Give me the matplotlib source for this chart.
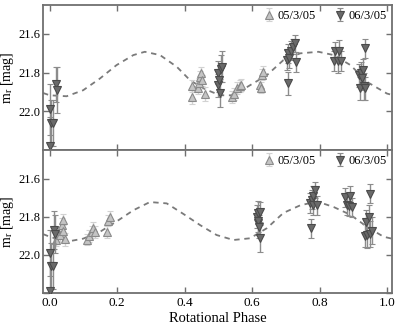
import matplotlib
matplotlib.use("Agg")
import matplotlib.pyplot as plt

plt.rcParams['font.family'] = ['Liberation Serif', 'DejaVu Serif']
plt.rcParams['mathtext.fontset'] = 'stix'

# ---------------- data ----------------
# top panel, 05/3/05 (up triangles)
top_a_phase = [0.421, 0.423, 0.439, 0.443, 0.447, 0.449, 0.453, 0.459,
               0.540, 0.545, 0.555, 0.563, 0.567,
               0.624, 0.626, 0.629, 0.632]
top_a_mag = [21.926, 21.870, 21.880, 21.856, 21.820, 21.800, 21.840, 21.910,
             21.926, 21.910, 21.880, 21.870, 21.865,
             21.865, 21.877, 21.810, 21.796]
top_a_err = [0.035, 0.03, 0.03, 0.03, 0.03, 0.03, 0.03, 0.035,
             0.03, 0.03, 0.03, 0.03, 0.03,
             0.03, 0.03, 0.03, 0.03]

# top panel, 06/3/05 (down triangles)
top_b_phase = [0.000, 0.001, 0.005, 0.009, 0.020, 0.022,
               0.500, 0.500, 0.503, 0.505, 0.508, 0.510,
               0.705, 0.708, 0.708, 0.711, 0.715, 0.721, 0.728, 0.731,
               0.842, 0.845, 0.855, 0.859, 0.865,
               0.916, 0.921, 0.924, 0.926, 0.928, 0.931, 0.934, 0.936]
top_b_mag = [22.180, 21.990, 22.060, 22.060, 21.860, 21.890,
             21.800, 21.865, 21.840, 21.905, 21.780, 21.770,
             21.735, 21.700, 21.856, 21.726, 21.687, 21.666, 21.648, 21.744,
             21.740, 21.690, 21.740, 21.690, 21.740,
             21.813, 21.880, 21.804, 21.830, 21.787, 21.870, 21.674, 21.880]
top_b_err = [0.15, 0.13, 0.12, 0.12, 0.09, 0.12,
             0.06, 0.06, 0.06, 0.07, 0.07, 0.08,
             0.05, 0.05, 0.06, 0.05, 0.05, 0.04, 0.045, 0.05,
             0.05, 0.05, 0.06, 0.06, 0.05,
             0.06, 0.06, 0.06, 0.06, 0.06, 0.07, 0.05, 0.06]

# bottom panel, 05/3/05 (up triangles)
bot_a_phase = [0.018, 0.025, 0.030, 0.035, 0.038, 0.040, 0.045,
               0.111, 0.117, 0.124, 0.129, 0.134,
               0.170, 0.173, 0.178]
bot_a_mag = [21.920, 21.890, 21.896, 21.844, 21.815, 21.874, 21.918,
             21.920, 21.900, 21.880, 21.860, 21.880,
             21.880, 21.820, 21.800]
bot_a_err = [0.035, 0.035, 0.035, 0.035, 0.03, 0.035, 0.035,
             0.03, 0.03, 0.03, 0.03, 0.03,
             0.03, 0.03, 0.03]

# bottom panel, 06/3/05 (down triangles)
bot_b_phase = [0.000, 0.002, 0.005, 0.010, 0.012, 0.015,
               0.614, 0.617, 0.619, 0.619, 0.621, 0.624, 0.624,
               0.773, 0.775, 0.778, 0.780, 0.782, 0.787, 0.793,
               0.877, 0.882, 0.886, 0.889, 0.896,
               0.936, 0.939, 0.941, 0.946, 0.949, 0.951, 0.956]
bot_b_mag = [22.190, 21.990, 22.057, 22.060, 21.870, 21.890,
             21.800, 21.835, 21.780, 21.820, 21.853, 21.775, 21.913,
             21.728, 21.860, 21.710, 21.740, 21.690, 21.660, 21.740,
             21.697, 21.740, 21.745, 21.690, 21.750,
             21.900, 21.827, 21.896, 21.800, 21.890, 21.680, 21.874]
bot_b_err = [0.15, 0.12, 0.12, 0.12, 0.10, 0.10,
             0.06, 0.06, 0.06, 0.06, 0.06, 0.05, 0.07,
             0.05, 0.05, 0.05, 0.05, 0.05, 0.04, 0.05,
             0.05, 0.05, 0.05, 0.05, 0.05,
             0.06, 0.06, 0.07, 0.06, 0.07, 0.05, 0.07]

# model curves
top_curve_phase = [-0.02, 0.0, 0.05, 0.099, 0.149, 0.198, 0.248, 0.282, 0.327, 0.377,
                   0.416, 0.46, 0.505, 0.545, 0.594, 0.644, 0.693, 0.743, 0.797,
                   0.842, 0.892, 0.941, 1.0, 1.015]
top_curve_mag = [21.905, 21.917, 21.922, 21.891, 21.830, 21.761, 21.709, 21.692, 21.709, 21.770,
                 21.839, 21.885, 21.917, 21.917, 21.865, 21.813, 21.735, 21.700, 21.692,
                 21.709, 21.761, 21.848, 21.908, 21.915]
bot_curve_phase = [-0.02, 0.0, 0.05, 0.099, 0.149, 0.198, 0.248, 0.297, 0.347, 0.396,
                   0.446, 0.495, 0.545, 0.594, 0.644, 0.693, 0.743, 0.793, 0.842,
                   0.892, 0.941, 0.99, 1.015]
bot_curve_mag = [21.891, 21.905, 21.931, 21.915, 21.879, 21.825, 21.766, 21.723, 21.730, 21.785,
                 21.844, 21.896, 21.922, 21.913, 21.860, 21.780, 21.740, 21.720, 21.749,
                 21.790, 21.853, 21.905, 21.915]

label_a = "05/3/05"
label_b = "06/3/05"
xticks = [0.0, 0.2, 0.4, 0.6, 0.8, 1.0]
yticks = [21.6, 21.8, 22.0, 22.2]
ytick_labels = ["21.6", "21.8", "22.0", ""]

# ---------------- figure ----------------
fig = plt.figure(figsize=(3.99, 3.27), dpi=100)
L, R = 43 / 399, 392 / 399
ax1 = fig.add_axes([L, 1 - 150 / 327, R - L, 145 / 327])
ax2 = fig.add_axes([L, 1 - 293 / 327, R - L, 143 / 327])

spine_col = '#707070'
for ax, cp, cm, ap, am, ae, bp, bm, be in [
        (ax1, top_curve_phase, top_curve_mag, top_a_phase, top_a_mag, top_a_err,
         top_b_phase, top_b_mag, top_b_err),
        (ax2, bot_curve_phase, bot_curve_mag, bot_a_phase, bot_a_mag, bot_a_err,
         bot_b_phase, bot_b_mag, bot_b_err)]:
    ax.plot(cp, cm, color='#7a7a7a', lw=1.3, ls=(0, (3, 2.6)), zorder=2)
    ax.errorbar(ap, am, yerr=ae, fmt='^', ms=5.5, mfc='#c4c4c4', mec='#8a8a8a', mew=0.8,
                ecolor='#d2d2d2', elinewidth=1.0, capsize=2, capthick=0.8,
                label=label_a, zorder=3)
    ax.errorbar(bp, bm, yerr=be, fmt='v', ms=5.5, mfc='#6a6a6a', mec='#4a4a4a', mew=0.8,
                ecolor='#8c8c8c', elinewidth=1.0, capsize=2, capthick=0.8,
                label=label_b, zorder=4)
    ax.set_xlim(-0.02, 1.015)
    ax.set_ylim(22.2, 21.45)
    ax.set_xticks(xticks)
    ax.set_yticks(yticks)
    ax.set_yticklabels(ytick_labels)
    ax.tick_params(direction='in', top=True, right=True, length=4.5, width=1.0,
                   color=spine_col, labelsize=9, pad=2)
    ax.tick_params(axis='x', labelsize=9.5, pad=3)
    for s in ax.spines.values():
        s.set_color(spine_col)
        s.set_linewidth(1.3)
    ax.set_ylabel(r"m$_\mathrm{r}$ [mag]", fontsize=10)
    ax.yaxis.set_label_coords(-0.078, 0.5)
    ax.legend(loc='upper right', ncol=2, frameon=False, fontsize=9,
              handlelength=0.8, handletextpad=0.3, columnspacing=1.5,
              borderaxespad=0.1, borderpad=0.3)

ax1.set_xticklabels([])
ax2.set_xticklabels(["0.0", "0.2", "0.4", "0.6", "0.8", "1.0"])
ax2.set_xlabel("Rotational Phase", fontsize=10.5, labelpad=2)

fig.savefig("out.png", dpi=100)
